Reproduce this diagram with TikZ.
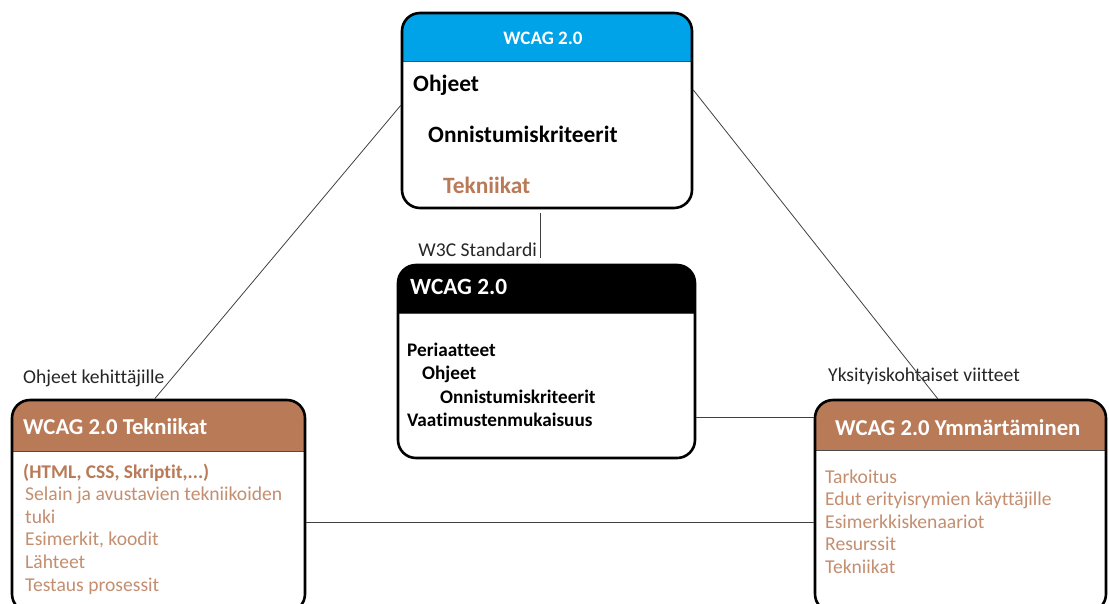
\documentclass[tikz,border=0pt]{standalone}
\usepackage{fontspec}
\setmainfont{Carlito}[Ligatures=NoCommon]

\definecolor{wcagblue}{HTML}{00A2E8}
\definecolor{wcagbrown}{HTML}{B97A57}
\colorlet{itembrown}{wcagbrown!85!white}

\begin{document}
\begin{tikzpicture}[x=1pt,y=-1pt]
    % Styles
    \tikzstyle{box} = [draw, line width=2.6pt, rounded corners=18pt, fill=white, inner sep=0pt]
    \tikzstyle{link} = [draw=black!75, line width=0.8pt]
    \tikzstyle{item} = [font=\fontsize{19.6}{23}\selectfont, anchor=base west, inner sep=0pt]
    \tikzstyle{bolditem} = [item, font=\fontsize{19.2}{23}\selectfont\bfseries]
    \tikzstyle{headtext} = [item, text=white, font=\fontsize{22.7}{27}\selectfont\bfseries]
    \tikzset{header/.style 2 args={path picture={
        \fill[#1, sharp corners] (path picture bounding box.north west) rectangle ([yshift=-#2]path picture bounding box.north east);
        \draw[black!70, line width=0.8pt, sharp corners] ([yshift=-#2]path picture bounding box.north west) -- ([yshift=-#2]path picture bounding box.north east);}}}

    \useasboundingbox (0,0) rectangle (1109,603);
    \clip (0,0) rectangle (1109,603);

    % ==== Boxes ====
    \node[box, header={wcagblue}{48pt}, minimum width=290, minimum height=195] (guide) at (547,110.5) {};
    \node[box, header={black}{48pt}, minimum width=297, minimum height=193] (standard) at (546.5,361.5) {};
    \node[box, header={wcagbrown}{51pt}, minimum width=293, minimum height=212] (techniques) at (158.5,506) {};
    \node[box, header={wcagbrown}{50pt}, minimum width=291, minimum height=212] (understanding) at (960.5,506) {};

    % ==== Top box ====
    \node[headtext, anchor=base, font=\fontsize{19}{23}\selectfont\bfseries] (guide-title) at (543,44) {WCAG 2.0};
    \node[bolditem, font=\fontsize{23.4}{28}\selectfont\bfseries] (guide-1) at (413,91) {Ohjeet};
    \node[bolditem, font=\fontsize{23.4}{28}\selectfont\bfseries] (guide-2) at (428,142) {Onnistumiskriteerit};
    \node[bolditem, font=\fontsize{23.4}{28}\selectfont\bfseries, text=wcagbrown] (guide-3) at (443,193) {Tekniikat};

    % ==== Middle box ====
    \node[headtext, font=\fontsize{23.3}{28}\selectfont\bfseries] (std-title) at (410,294) {WCAG 2.0};
    \node[bolditem] (std-1) at (407,356) {Periaatteet};
    \node[bolditem] (std-2) at (422,379) {Ohjeet};
    \node[bolditem] (std-3) at (440,403) {Onnistumiskriteerit};
    \node[bolditem] (std-4) at (407,426) {Vaatimustenmukaisuus};

    % ==== Bottom boxes ====
    \node[headtext] (tech-title) at (23,434) {WCAG 2.0 Tekniikat};
    \node[bolditem, font=\fontsize{19.4}{23}\selectfont\bfseries, text=wcagbrown] (tech-0) at (23,478) {(HTML, CSS, Skriptit,...)};
    \foreach \txt [count=\i] in {Selain ja avustavien tekniikoiden, tuki, {Esimerkit, koodit}, Lähteet, Testaus prosessit}
        \node[item, text=itembrown] (tech-\i) at (25,478+22.6*\i) {\txt};

    \node[headtext] (und-title) at (835,435) {WCAG 2.0 Ymmärtäminen};
    \foreach \txt [count=\i from 0] in {Tarkoitus, Edut erityisrymien käyttäjille, Esimerkkiskenaariot, Resurssit, Tekniikat}
        \node[item, text=itembrown] (und-\i) at (825,483+22.5*\i) {\txt};

    % ==== Labels ====
    \node[item, text=black!85] (dev-label) at (23,383) {Ohjeet kehittäjille};
    \node[item, text=black!85] (ref-label) at (828,381) {Yksityiskohtaiset viitteet};
    \node[item, anchor=base east, text=black!85] (w3c-label) at (537,256) {W3C Standardi};

    % ==== Connectors ====
    \draw[link] (guide.178) -- (techniques.92);
    \draw[link] (guide.8) -- (understanding.102);
    \draw[link] ([xshift=-7pt,yshift=-4pt]guide.south) -- ([xshift=-6.5pt,yshift=6pt]standard.north);
    \draw[link] ([yshift=-55.5pt]standard.east) -- ([yshift=-55.5pt]standard.east -| understanding.west);
    \draw[link] ([yshift=-16pt]techniques.east) -- ([yshift=-16pt]techniques.east -| understanding.west);
\end{tikzpicture}
\end{document}
